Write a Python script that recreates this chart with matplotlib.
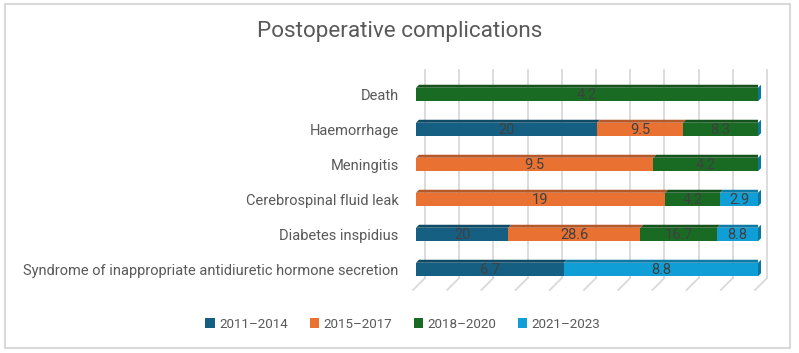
import matplotlib
matplotlib.use("Agg")
import matplotlib.pyplot as plt
from matplotlib.patches import Polygon, Rectangle
import numpy as np

plt.rcParams['font.family'] = ['Roboto', 'DejaVu Sans']

title = "Postoperative complications"
categories = ["Death", "Haemorrhage", "Meningitis", "Cerebrospinal fluid leak",
              "Diabetes inspidius",
              "Syndrome of inappropriate antidiuretic hormone secretion"]
series_names = ["2011–2014", "2015–2017", "2018–2020", "2021–2023"]
s2011_2014 = [0, 20, 0, 0, 20, 6.7]
s2015_2017 = [0, 9.5, 9.5, 19, 28.6, 0]
s2018_2020 = [4.2, 8.3, 4.2, 4.2, 16.7, 0]
s2021_2023 = [0, 0, 0, 2.9, 8.8, 8.8]
series = [s2011_2014, s2015_2017, s2018_2020, s2021_2023]
colors = ["#156082", "#E97132", "#196B24", "#0F9ED5"]

def darker(c, f=0.78):
    rgb = np.array(matplotlib.colors.to_rgb(c))
    return tuple(rgb * f)

W, H, DPI = 799, 353, 100
fig = plt.figure(figsize=(W / DPI, H / DPI), dpi=DPI)

# border
fig.patches.append(Rectangle((5 / W, 1 - 348 / H), 785 / W, 344 / H,
                             transform=fig.transFigure, fill=False,
                             edgecolor="#d9d9d9", lw=1.5))

ax_l, ax_r, ax_t, ax_b = 416, 758, 77, 287
ax = fig.add_axes([ax_l / W, 1 - ax_b / H, (ax_r - ax_l) / W, (ax_b - ax_t) / H])
n = len(categories)
ax.set_xlim(0, 1)
ax.set_ylim(n - 0.5, -0.5)
for s in ax.spines.values():
    s.set_visible(False)
ax.set_xticks([])
ax.set_yticks(range(n))
ax.set_yticklabels(categories, fontsize=10.5, color="#595959")
ax.tick_params(axis='y', length=0, pad=12.5)

px_x = 1.0 / (ax_r - ax_l)
px_y = n / (ax_b - ax_t)

def py(p):
    return (p - ax_t) * px_y - 0.5

# gridlines (back wall + floor)
gx0 = 9 * px_x
for k in range(11):
    x = gx0 + k * 0.1
    ax.plot([x, x], [py(70), py(278)], color="#d9d9d9", lw=1.3, clip_on=False, zorder=0)
    ax.plot([x, x - 12 * px_x], [py(278), py(290)], color="#d9d9d9", lw=1.3,
            clip_on=False, zorder=0)

vals = np.array(series, dtype=float)
totals = vals.sum(axis=0)
frac = vals / totals
bh = 13.5 * px_y
d = 3
lefts = np.zeros(n)
for i, (name, col) in enumerate(zip(series_names, colors)):
    w = frac[i]
    ax.barh(range(n), w, left=lefts, height=bh, color=col, label=name, zorder=2)
    for r in range(n):
        if w[r] <= 0:
            continue
        x0, x1 = lefts[r], lefts[r] + w[r]
        yt = r - bh / 2
        ax.add_patch(Polygon([(x0, yt), (x1, yt), (x1 + d * px_x, yt - d * px_y),
                              (x0 + d * px_x, yt - d * px_y)], closed=True,
                             facecolor=darker(col), edgecolor='none', zorder=2))
        ax.text((x0 + x1) / 2, r + 0.02, f"{series[i][r]:g}", ha='center', va='center',
                fontsize=10.5, color="#404040", zorder=4)
    lefts = lefts + w

for r in range(n):
    yt, yb = r - bh / 2, r + bh / 2
    ax.add_patch(Polygon([(1, yt), (1 + d * px_x, yt - d * px_y),
                          (1 + d * px_x, yb - d * px_y), (1, yb)], closed=True,
                         facecolor=darker(colors[3], 0.75), edgecolor='none',
                         zorder=3, clip_on=False))

fig.text(0.5, 1 - 32 / H, title, ha='center', va='center', fontsize=16.2,
         color="#595959")

handles, labels = ax.get_legend_handles_labels()
fig.legend(handles, labels, loc='center', bbox_to_anchor=(403 / W, 1 - 324 / H),
           ncol=4, frameon=False, fontsize=9.6, handlelength=0.7,
           handleheight=0.7, handletextpad=0.35, columnspacing=1.6,
           labelcolor="#595959")

fig.savefig("out.png", dpi=DPI)
